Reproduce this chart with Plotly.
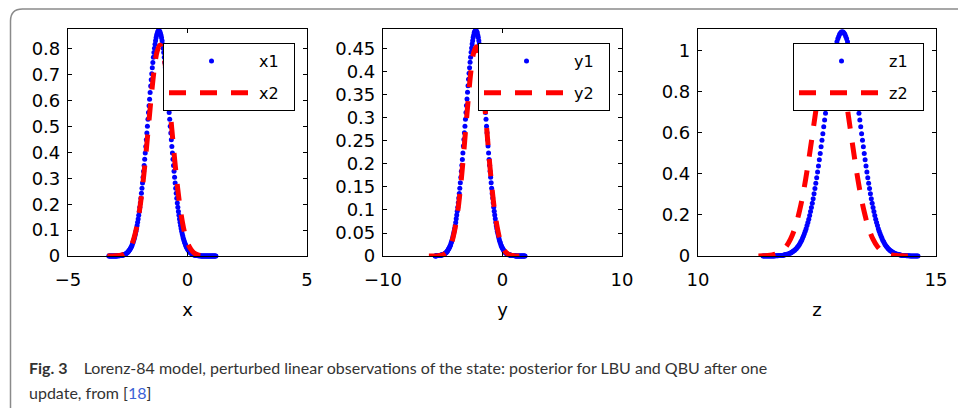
import numpy as np
import plotly.graph_objects as go

# ---------------- data ----------------
# panel 1 : x
X1_START, X1_END = -3.293, 1.189
X1_Y = [
    0, 0, 0, 0, 0, 0, 0, 0, 0, 0, 0, 0, 0, 0, 0, 0,
    0.001, 0.001, 0.001, 0.001, 0.001,
    0.002, 0.002, 0.002, 0.003, 0.003, 0.004, 0.004, 0.005, 0.006, 0.007, 0.008,
    0.010, 0.011, 0.013, 0.015, 0.017, 0.020, 0.023, 0.026, 0.030, 0.034,
    0.038, 0.043, 0.049, 0.055, 0.062, 0.069, 0.077, 0.086, 0.096, 0.106,
    0.118, 0.130, 0.143, 0.157, 0.172, 0.188, 0.205, 0.223, 0.242, 0.262,
    0.282, 0.304, 0.327, 0.350, 0.374, 0.398, 0.423, 0.449, 0.475, 0.501,
    0.528, 0.554, 0.580, 0.606, 0.632, 0.657, 0.681, 0.704, 0.727, 0.748,
    0.768, 0.786, 0.803, 0.818, 0.832, 0.843, 0.853, 0.860, 0.866, 0.869,
    0.870,
    0.869, 0.866, 0.860, 0.853, 0.843, 0.832, 0.818, 0.803, 0.786, 0.768,
    0.748, 0.727, 0.704, 0.681, 0.657, 0.632, 0.606, 0.580, 0.554, 0.528,
    0.501, 0.475, 0.449, 0.423, 0.398, 0.374, 0.350, 0.327, 0.304, 0.282,
    0.262, 0.242, 0.223, 0.205, 0.188, 0.172, 0.157, 0.143, 0.130, 0.118,
    0.106, 0.096, 0.086, 0.077, 0.069, 0.062, 0.055, 0.049, 0.043, 0.038,
    0.034, 0.030, 0.026, 0.023, 0.020, 0.017, 0.015, 0.013, 0.011, 0.010,
    0.008, 0.007, 0.006, 0.005, 0.004, 0.004, 0.003, 0.003, 0.002, 0.002, 0.002,
    0.001, 0.001, 0.001, 0.001, 0.001,
    0, 0, 0, 0, 0, 0, 0, 0, 0, 0, 0, 0, 0, 0, 0, 0, 0, 0, 0, 0,
    0, 0, 0, 0, 0, 0, 0, 0, 0,
]
X2_START, X2_END = -3.355, 1.055
X2_Y = [0, 0, 0, 0.001, 0.002, 0.004, 0.009, 0.019, 0.036, 0.065, 0.110, 0.176,
        0.265, 0.373, 0.494, 0.615, 0.719, 0.790, 0.815, 0.790, 0.719, 0.615,
        0.494, 0.373, 0.265, 0.176, 0.110, 0.065, 0.036, 0.019, 0.009, 0.004,
        0.002, 0.001, 0, 0, 0]

# panel 2 : y
Y1_START, Y1_END = -5.637, 1.888
Y1_Y = [
    0, 0, 0,
    0.001, 0.001, 0.001, 0.001, 0.001,
    0.001, 0.001, 0.001, 0.002, 0.002, 0.002, 0.002, 0.003, 0.003, 0.004, 0.005,
    0.005, 0.006, 0.007, 0.008, 0.010, 0.011, 0.013, 0.015, 0.017, 0.019,
    0.022, 0.024, 0.028, 0.031, 0.035, 0.039, 0.044, 0.049, 0.054, 0.060,
    0.066, 0.073, 0.081, 0.089, 0.097, 0.106, 0.116, 0.126, 0.136, 0.147,
    0.159, 0.171, 0.184, 0.197, 0.210, 0.224, 0.239, 0.253, 0.268, 0.282,
    0.297, 0.312, 0.327, 0.341, 0.356, 0.370, 0.384, 0.397, 0.409, 0.421,
    0.432, 0.443, 0.452, 0.461, 0.468, 0.475, 0.480, 0.485, 0.488, 0.489,
    0.490,
    0.489, 0.488, 0.485, 0.480, 0.475, 0.468, 0.461, 0.452, 0.443, 0.432,
    0.421, 0.409, 0.397, 0.384, 0.370, 0.356, 0.341, 0.327, 0.312, 0.297,
    0.282, 0.268, 0.253, 0.239, 0.224, 0.210, 0.197, 0.184, 0.171, 0.159,
    0.147, 0.136, 0.126, 0.116, 0.106, 0.097, 0.089, 0.081, 0.073, 0.066,
    0.060, 0.054, 0.049, 0.044, 0.039, 0.035, 0.031, 0.028, 0.024, 0.022,
    0.019, 0.017, 0.015, 0.013, 0.011, 0.010, 0.008, 0.007, 0.006, 0.005,
    0.005, 0.004, 0.003, 0.003, 0.002, 0.002, 0.002, 0.002, 0.001, 0.001, 0.001,
    0.001, 0.001, 0.001, 0.001, 0.001,
    0, 0, 0, 0, 0, 0, 0, 0, 0, 0, 0, 0, 0, 0, 0, 0, 0, 0, 0, 0,
]
Y2_START, Y2_END = -6.16, 1.54
Y2_Y = [0, 0, 0, 0, 0.001, 0.002, 0.005, 0.010, 0.020, 0.036, 0.062, 0.098,
        0.148, 0.208, 0.276, 0.343, 0.402, 0.441, 0.455, 0.441, 0.402, 0.343,
        0.276, 0.208, 0.148, 0.098, 0.062, 0.036, 0.020, 0.010, 0.005, 0.002,
        0.001, 0, 0, 0]

# panel 3 : z
Z1_START, Z1_END = 11.365, 14.621
Z1_Y = [
    0, 0, 0, 0, 0, 0, 0, 0, 0, 0, 0, 0, 0, 0,
    0.001, 0.001, 0.001, 0.001, 0.002,
    0.002, 0.002, 0.003, 0.003, 0.004, 0.005, 0.006, 0.007, 0.008, 0.009, 0.010,
    0.012, 0.014, 0.016, 0.019, 0.022, 0.025, 0.028, 0.033, 0.037, 0.042,
    0.048, 0.054, 0.061, 0.069, 0.077, 0.087, 0.097, 0.108, 0.120, 0.133,
    0.148, 0.163, 0.179, 0.197, 0.216, 0.236, 0.257, 0.279, 0.303, 0.328,
    0.354, 0.381, 0.409, 0.438, 0.468, 0.499, 0.531, 0.563, 0.595, 0.628,
    0.661, 0.694, 0.727, 0.760, 0.792, 0.823, 0.853, 0.882, 0.910, 0.937,
    0.962, 0.985, 1.006, 1.025, 1.042, 1.056, 1.068, 1.078, 1.085, 1.089,
    1.090,
    1.089, 1.085, 1.078, 1.068, 1.056, 1.042, 1.025, 1.006, 0.985, 0.962,
    0.937, 0.910, 0.882, 0.853, 0.823, 0.792, 0.760, 0.727, 0.694, 0.661,
    0.628, 0.595, 0.563, 0.531, 0.499, 0.468, 0.438, 0.409, 0.381, 0.354,
    0.328, 0.303, 0.279, 0.257, 0.236, 0.216, 0.197, 0.179, 0.163, 0.148,
    0.133, 0.120, 0.108, 0.097, 0.087, 0.077, 0.069, 0.061, 0.054, 0.048,
    0.042, 0.037, 0.033, 0.028, 0.025, 0.022, 0.019, 0.016, 0.014, 0.012,
    0.010, 0.009, 0.008, 0.007, 0.006, 0.005, 0.004, 0.003, 0.003, 0.002, 0.002,
    0.002, 0.001, 0.001, 0.001, 0.001,
    0, 0, 0, 0, 0, 0, 0, 0, 0, 0,
]
Z2_START, Z2_END = 11.27, 14.5425
Z2_Y = [0, 0.001, 0.002, 0.005, 0.011, 0.023, 0.045, 0.082, 0.139, 0.223,
        0.334, 0.472, 0.625, 0.777, 0.909, 0.998, 1.030, 0.998, 0.909, 0.777,
        0.625, 0.472, 0.334, 0.223, 0.139, 0.082, 0.045, 0.023, 0.011, 0.005,
        0.002, 0.001, 0, 0, 0]

SERIES_NAMES = [("x1", "x2"), ("y1", "y2"), ("z1", "z2")]
AXIS_TITLES = ["x", "y", "z"]
X_RANGES = [[-5, 5], [-10, 10], [10, 15]]
X_TICKS = [[-5, 0, 5], [-10, 0, 10], [10, 15]]
X_TICKTEXT = [["\u22125", "0", "5"], ["\u221210", "0", "10"], ["10", "15"]]
Y_RANGES = [[0, 0.877], [0, 0.4934], [0, 1.104]]
Y_TICKS = [[0, 0.1, 0.2, 0.3, 0.4, 0.5, 0.6, 0.7, 0.8],
           [0, 0.05, 0.1, 0.15, 0.2, 0.25, 0.3, 0.35, 0.4, 0.45],
           [0, 0.2, 0.4, 0.6, 0.8, 1]]
Y_TICKTEXT = [["0", "0.1", "0.2", "0.3", "0.4", "0.5", "0.6", "0.7", "0.8"],
              ["0", "0.05", "0.1", "0.15", "0.2", "0.25", "0.3", "0.35", "0.4", "0.45"],
              ["0", "0.2", "0.4", "0.6", "0.8", "1"]]
CAPTION_1 = "Lorenz-84 model, perturbed linear observations of the state: posterior for LBU and QBU after one"
CAPTION_2 = "update, from ["
CAPTION_REF = "18"

# ---------------- figure ----------------
W, H = 958, 408
FONT = "DejaVu Sans"
blue_sets = [(X1_START, X1_END, X1_Y), (Y1_START, Y1_END, Y1_Y), (Z1_START, Z1_END, Z1_Y)]
red_sets = [(X2_START, X2_END, X2_Y), (Y2_START, Y2_END, Y2_Y), (Z2_START, Z2_END, Z2_Y)]
NBSP = "\u00a0"

fig = go.Figure()
legends = ["legend", "legend2", "legend3"]
for i in range(3):
    ax = "" if i == 0 else str(i + 1)
    s, e, yy = blue_sets[i]
    fig.add_trace(go.Scatter(
        x=np.linspace(s, e, len(yy)), y=yy, mode="markers", name=SERIES_NAMES[i][0] + NBSP * 2,
        marker=dict(color="#0000ff", size=5, line=dict(width=0)),
        xaxis="x" + ax, yaxis="y" + ax, legend=legends[i], legendgroup="b%d" % i,
        cliponaxis=False))
    s, e, yy = red_sets[i]
    fig.add_trace(go.Scatter(
        x=np.linspace(s, e, len(yy)), y=yy, mode="lines", name=SERIES_NAMES[i][1] + NBSP * 2,
        line=dict(color="#ff0000", width=5, dash="17px,14px", shape="spline"),
        xaxis="x" + ax, yaxis="y" + ax, legend=legends[i], legendgroup="r%d" % i,
        cliponaxis=False))

plot_px = [(68, 307), (383, 622), (698, 936)]
top_px, bot_px = 29, 256
common = dict(showline=True, linecolor="black", linewidth=1.2, mirror="allticks",
              ticks="inside", ticklen=4, tickwidth=1, tickcolor="black",
              showgrid=False, zeroline=False, automargin=False,
              tickfont=dict(family=FONT, size=18, color="black"))
layout = dict(width=W, height=H, margin=dict(l=0, r=0, t=0, b=0, autoexpand=False),
              paper_bgcolor="white", plot_bgcolor="white", showlegend=True)
for i in range(3):
    ax = "" if i == 0 else str(i + 1)
    l, r = plot_px[i]
    layout["xaxis" + ax] = dict(common, domain=[l / W, r / W], range=X_RANGES[i],
                                tickmode="array", tickvals=X_TICKS[i], ticktext=X_TICKTEXT[i],
                                anchor="y" + ax, ticklabelstandoff=7,
                                title=dict(text=AXIS_TITLES[i], standoff=14,
                                           font=dict(family=FONT, size=18, color="black")))
    layout["yaxis" + ax] = dict(common, domain=[1 - bot_px / H, 1 - top_px / H], range=Y_RANGES[i],
                                tickmode="array", tickvals=Y_TICKS[i], ticktext=Y_TICKTEXT[i],
                                anchor="x" + ax, ticklabelstandoff=3)
    lx = [163, 478, 793][i]
    layout[legends[i]] = dict(x=lx / W, y=1 - 43 / H, xanchor="left", yanchor="top",
                              bordercolor="black", borderwidth=1, bgcolor="white",
                              font=dict(family=FONT, size=16, color="black"),
                              itemwidth=85, tracegroupgap=8)
fig.update_layout(**layout)

# outer rounded frame
x0 = 10.5 / W
yt = 1 - 9 / H
fig.add_shape(type="path", xref="paper", yref="paper",
              path=f"M {x0},-0.05 L {x0},{1 - 21 / H} Q {x0},{yt} {22.5 / W},{yt} L 1.05,{yt}",
              line=dict(color="#8a8a8a", width=1.5))

CAP_FONT = "Lato"
fig.add_annotation(xref="paper", yref="paper", x=27 / W, y=1 - 367 / H, xanchor="left", yanchor="middle",
                   showarrow=False, align="left",
                   text="<b>Fig. 3</b>\u2003 " + CAPTION_1,
                   font=dict(family=CAP_FONT, size=16, color="#333333"))
fig.add_annotation(xref="paper", yref="paper", x=27 / W, y=1 - 392 / H, xanchor="left", yanchor="middle",
                   showarrow=False, align="left",
                   text=CAPTION_2 + f"<span style='color:#3a62d6'>{CAPTION_REF}</span>]",
                   font=dict(family=CAP_FONT, size=16, color="#333333"))

fig.write_html("out.html")
